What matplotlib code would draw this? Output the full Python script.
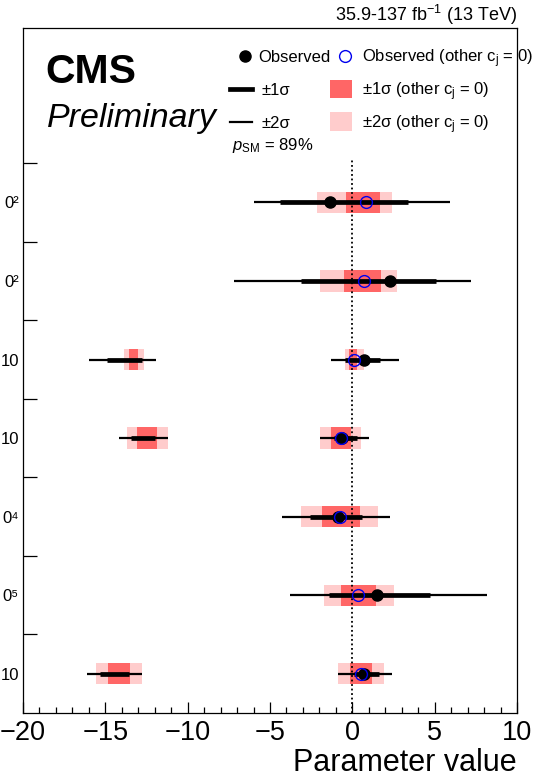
import matplotlib
matplotlib.use("Agg")
import matplotlib.pyplot as plt
from matplotlib.lines import Line2D
from matplotlib.patches import Rectangle

plt.rcParams["font.family"] = ["Liberation Sans", "DejaVu Sans"]
plt.rcParams["mathtext.fontset"] = "custom"
plt.rcParams["mathtext.rm"] = "Liberation Sans"
plt.rcParams["mathtext.it"] = "Liberation Sans:italic"
plt.rcParams["mathtext.bf"] = "Liberation Sans:bold"

# rows listed top to bottom (labels are clipped at the left edge in the original)
row_labels = ["0²", "0²", "10", "10", "0⁴", "0⁵", "10"]

# profiled fit (all other c_j floating)
obs_best = [-1.38, 2.27, 0.69, -0.60, -0.89, 1.50, 0.72]
obs_1sigma = [
    [(-4.37, 3.38)],
    [(-3.10, 5.10)],
    [(-14.9, -12.75), (-0.42, 1.70)],
    [(-13.44, -11.96), (-1.13, 0.28)],
    [(-2.55, 0.59)],
    [(-1.44, 4.74)],
    [(-15.3, -13.58), (0.08, 1.60)],
]
obs_2sigma = [
    [(-6.0, 5.95)],
    [(-7.16, 7.23)],
    [(-16.0, -11.9), (-1.3, 2.82)],
    [(-14.2, -11.2), (-1.94, 0.99)],
    [(-4.27, 2.27)],
    [(-3.76, 8.18)],
    [(-16.1, -12.77), (-0.89, 2.41)],
]

# individual fit (other c_j = 0)
ind_best = [0.85, 0.69, 0.08, -0.67, -0.73, 0.34, 0.53]
ind_1sigma = [
    [(-0.36, 1.70)],
    [(-0.53, 1.76)],
    [(-13.58, -13.0), (-0.22, 0.28)],
    [(-13.1, -11.86), (-1.3, -0.08)],
    [(-1.84, 0.44)],
    [(-0.67, 1.44)],
    [(-14.83, -13.48), (-0.12, 1.2)],
]
ind_2sigma = [
    [(-2.14, 2.41)],
    [(-1.94, 2.71)],
    [(-13.89, -12.67), (-0.47, 0.69)],
    [(-13.7, -11.2), (-1.98, 0.55)],
    [(-3.1, 1.54)],
    [(-1.7, 2.51)],
    [(-15.54, -12.77), (-0.89, 1.9)],
]

DARK = "#ff6666"
LIGHT = "#ffcccc"
BLUE = "#0000ee"
BOX_H = 0.27
W, H = 546, 777


def fx(px):
    return px / W


def fy(py):
    return 1 - py / H


def main():
    fig = plt.figure(figsize=(W / 100, H / 100), dpi=100)
    ax = fig.add_axes([fx(23), fy(713), 494 / W, 685 / H])

    n = len(row_labels)
    ypos = [n - 1 - i + 0.5 for i in range(n)]

    for i, y in enumerate(ypos):
        for lo, hi in ind_2sigma[i]:
            ax.barh(y, hi - lo, left=lo, height=BOX_H, color=LIGHT, lw=0, zorder=1)
        for lo, hi in ind_1sigma[i]:
            ax.barh(y, hi - lo, left=lo, height=BOX_H, color=DARK, lw=0, zorder=2)

    ax.plot([0, 0], [0, 7.05], color="black", ls=(0, (1, 1.5)), lw=1.3, zorder=3)

    for i, y in enumerate(ypos):
        for lo, hi in obs_2sigma[i]:
            ax.hlines(y, lo, hi, color="black", lw=1.6, zorder=4)
        for lo, hi in obs_1sigma[i]:
            ax.hlines(y, lo, hi, color="black", lw=3.4, zorder=5)

    ax.plot(obs_best, ypos, "o", color="black", ms=8, zorder=6)
    ax.plot(ind_best, ypos, "o", mfc="none", mec=BLUE, ms=8.5, mew=1.0, zorder=7)

    ax.set_xlim(-20, 10)
    ax.set_ylim(0, 8.72)
    ax.set_xticks(range(-20, 11, 5))
    ax.set_xticks(range(-20, 11, 1), minor=True)
    ax.tick_params(axis="x", which="major", direction="in", length=8, width=0.9,
                   labelsize=19.5, pad=5)
    ax.tick_params(axis="x", which="minor", direction="in", length=4, width=0.9)

    ax.set_yticks(range(1, 8))
    ax.set_yticklabels([])
    ax.set_yticks(ypos, minor=True)
    ax.set_yticklabels(row_labels, minor=True)
    ax.tick_params(axis="y", which="major", direction="in", length=10, width=0.9)
    ax.tick_params(axis="y", which="minor", length=0, labelsize=12, pad=3)
    for s in ax.spines.values():
        s.set_linewidth(0.9)

    fig.text(fx(517), fy(771), "Parameter value", ha="right", va="baseline",
             fontsize=22)
    fig.text(fx(517), fy(21), "35.9-137 fb$^{-1}$ (13 TeV)", ha="right",
             va="baseline", fontsize=13)
    fig.text(fx(45), fy(83), "CMS", ha="left", va="baseline",
             fontsize=29.5, fontweight="bold")
    fig.text(fx(47), fy(127), "Preliminary", ha="left", va="baseline",
             fontsize=24.5, style="italic")
    fig.text(fx(232), fy(150), "$p_{\\mathrm{SM}}$ = 89%", ha="left",
             va="baseline", fontsize=12)

    # legend, laid out by hand so both columns share the same rows
    tf = fig.transFigure
    fig.add_artist(Line2D([fx(245)], [fy(56)], ls="none", marker="o",
                          color="black", ms=8, transform=tf))
    fig.add_artist(Line2D([fx(345)], [fy(56)], ls="none", marker="o",
                          mfc="none", mec=BLUE, ms=8.5, mew=1.0, transform=tf))
    fig.add_artist(Line2D([fx(230), fx(252)], [fy(89), fy(89)], color="black",
                          lw=3.4, transform=tf))
    fig.add_artist(Line2D([fx(230), fx(252)], [fy(122), fy(122)], color="black",
                          lw=1.6, transform=tf))
    fig.add_artist(Rectangle((fx(330), fy(98)), 22 / W, 18 / H, color=DARK,
                             lw=0, transform=tf))
    fig.add_artist(Rectangle((fx(330), fy(131)), 22 / W, 19 / H, color=LIGHT,
                             lw=0, transform=tf))
    legend_text = [
        (258, 56, "Observed"),
        (362, 56, "Observed (other c$_{\\mathrm{j}}$ = 0)"),
        (261, 89, "±1σ"),
        (362, 89, "±1σ (other c$_{\\mathrm{j}}$ = 0)"),
        (261, 122, "±2σ"),
        (362, 122, "±2σ (other c$_{\\mathrm{j}}$ = 0)"),
    ]
    for px, py, txt in legend_text:
        fig.text(fx(px), fy(py + 6), txt, ha="left", va="baseline", fontsize=12)

    fig.savefig("out.png", dpi=100)


if __name__ == "__main__":
    main()
